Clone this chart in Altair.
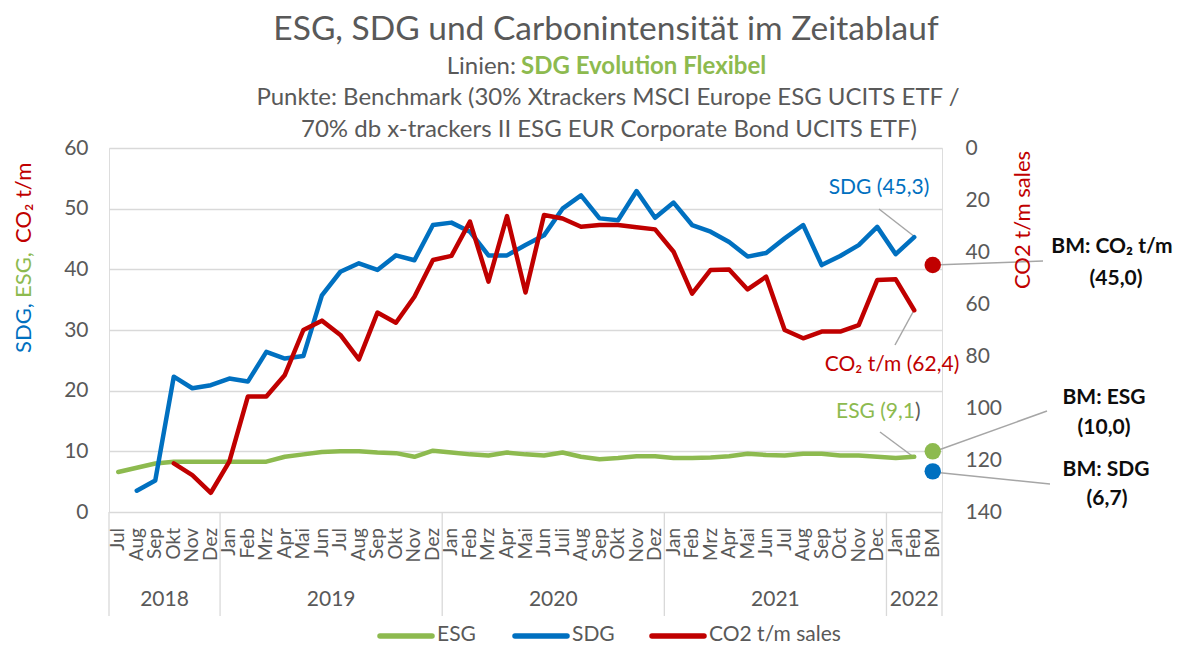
import altair as alt
import pandas as pd

FONT = "Lato"
GRAY = "#595959"
GREEN = "#8DBA4F"
BLUE = "#0070C0"
RED = "#C00000"
GRID = "#D9D9D9"
LEAD = "#A6A6A6"

months = ["Jul", "Aug", "Sep", "Okt", "Nov", "Dez",
          "Jan", "Feb", "Mrz", "Apr", "Mai", "Jun", "Jul", "Aug", "Sep", "Okt", "Nov", "Dez",
          "Jan", "Feb", "Mrz", "Apr", "Mai", "Jun", "Juli", "Aug", "Sep", "Okt", "Nov", "Dez",
          "Jan", "Feb", "Mrz", "Apr", "Mai", "Jun", "Jul", "Aug", "Sep", "Oct", "Nov", "Dec",
          "Jan", "Feb", "BM"]
years = ["2018"] * 6 + ["2019"] * 12 + ["2020"] * 12 + ["2021"] * 12 + ["2022"] * 3

esg = [6.6, 7.3, 8.0, 8.3, 8.3, 8.3,
       8.3, 8.3, 8.3, 9.1, 9.5, 9.9, 10.0, 10.0, 9.8, 9.7, 9.1, 10.1,
       9.8, 9.5, 9.3, 9.8, 9.5, 9.3, 9.8, 9.1, 8.7, 8.9, 9.2, 9.2,
       8.9, 8.9, 9.0, 9.2, 9.6, 9.4, 9.3, 9.6, 9.6, 9.3, 9.3, 9.1,
       8.9, 9.1, None]
sdg = [None, 3.5, 5.2, 22.3, 20.4, 20.9,
       22.0, 21.5, 26.4, 25.3, 25.7, 35.7, 39.6, 41.0, 39.9, 42.3, 41.5, 47.3,
       47.7, 46.2, 42.3, 42.3, 44.0, 45.6, 50.0, 52.2, 48.4, 48.1, 52.9, 48.5,
       51.0, 47.3, 46.2, 44.5, 42.1, 42.7, 45.1, 47.3, 40.7, 42.2, 44.0, 47.0,
       42.5, 45.3, None]
co2 = [None, None, None, 121.3, 125.8, 132.6,
       120.6, 95.6, 95.6, 87.3, 70.0, 66.4, 71.9, 81.3, 63.3, 67.2, 57.2, 43.1,
       41.5, 28.3, 51.4, 26.2, 55.6, 25.8, 27.1, 30.3, 29.6, 29.6, 30.5, 31.3,
       39.9, 56.0, 46.9, 46.7, 54.4, 49.5, 70.0, 73.2, 70.6, 70.6, 68.1, 50.8,
       50.5, 62.4, None]

bm_esg = 10.0
bm_sdg = 6.7
bm_co2 = 45.0

series_names = ["ESG", "SDG", "CO2 t/m sales"]
series_colors = [GREEN, BLUE, RED]


def de(v):
    return f"{v:.1f}".replace(".", ",")


n = len(months)
bm_idx = n - 1
idx = list(range(n))

rows = []
for i in idx:
    if esg[i] is not None:
        rows.append({"idx": i, "series": "ESG", "value": esg[i]})
for i in idx:
    if sdg[i] is not None:
        rows.append({"idx": i, "series": "SDG", "value": sdg[i]})
left_df = pd.DataFrame(rows)
co2_df = pd.DataFrame([{"idx": i, "series": "CO2 t/m sales", "co2": co2[i]} for i in idx if co2[i] is not None])
month_df = pd.DataFrame({"idx": idx, "month": months})

year_order = []
for y in years:
    if y not in year_order:
        year_order.append(y)
year_rows = []
bounds = [-0.5]
for y in year_order:
    ii = [i for i in idx if years[i] == y]
    year_rows.append({"c": (min(ii) + max(ii)) / 2, "year": y})
    bounds.append(max(ii) + 0.5)
year_df = pd.DataFrame(year_rows)
bound_df = pd.DataFrame({"b": bounds})

dummy = pd.DataFrame({"k": [0]})

xscale = alt.Scale(domain=[-0.5, n - 0.5], nice=False, zero=False)
X = alt.X("idx:Q", scale=xscale, axis=None)
color_scale = alt.Scale(domain=series_names, range=series_colors)

left_lines = alt.Chart(left_df).mark_line(strokeWidth=4.5, strokeJoin="round", strokeCap="round").encode(
    x=X,
    y=alt.Y("value:Q", scale=alt.Scale(domain=[0, 60], nice=False),
            axis=alt.Axis(values=[0, 10, 20, 30, 40, 50, 60], title=None, grid=True, gridColor=GRID,
                          gridWidth=1.3, domain=False, ticks=False, tickSize=0, labelPadding=21,
                          labelFontSize=21, labelColor=GRAY, labelFont=FONT)),
    color=alt.Color("series:N", scale=color_scale, legend=None),
)


def bm_point(val, col, field="value"):
    d = pd.DataFrame({"idx": [bm_idx], field: [val]})
    return alt.Chart(d).mark_circle(size=270, opacity=1, color=col).encode(x=X, y=f"{field}:Q")


left_group = alt.layer(left_lines, bm_point(bm_esg, GREEN), bm_point(bm_sdg, BLUE))

co2_line = alt.Chart(co2_df).mark_line(strokeWidth=4.5, strokeJoin="round", strokeCap="round").encode(
    x=X,
    y=alt.Y("co2:Q", scale=alt.Scale(domain=[0, 140], reverse=True, nice=False),
            axis=alt.Axis(orient="right", values=[0, 20, 40, 60, 80, 100, 120, 140], title=None, grid=False,
                          domain=False, ticks=False, tickSize=0, labelPadding=23,
                          labelFontSize=21, labelColor=GRAY, labelFont=FONT)),
    color=alt.Color("series:N", scale=color_scale, legend=None),
)
right_group = alt.layer(co2_line, bm_point(bm_co2, RED, "co2"))


def label(text, x, y, color, size=21, align="center", weight="normal", angle=0):
    kw = dict(text=text, align=align, baseline="middle", fontSize=size, color=color,
              fontWeight=weight, font=FONT)
    if angle:
        kw["angle"] = angle
    return alt.Chart(dummy).mark_text(**kw).encode(x=alt.value(x), y=alt.value(y))


def lead(x1, y1, x2, y2, color=LEAD, width=1.5, cap="butt"):
    return alt.Chart(dummy).mark_rule(color=color, strokeWidth=width, strokeCap=cap).encode(
        x=alt.value(x1), y=alt.value(y1), x2=alt.value(x2), y2=alt.value(y2))


month_text = alt.Chart(month_df).mark_text(
    angle=270, align="right", baseline="middle", fontSize=19, color=GRAY, font=FONT
).encode(x=X, y=alt.value(380), text="month:N")

year_text = alt.Chart(year_df).mark_text(
    baseline="middle", fontSize=21, color=GRAY, font=FONT
).encode(x=alt.X("c:Q", scale=xscale, axis=None), y=alt.value(452), text="year:N")

separators = alt.Chart(bound_df).mark_rule(color=GRID, strokeWidth=1.3).encode(
    x=alt.X("b:Q", scale=xscale, axis=None), y=alt.value(364), y2=alt.value(468))

leaders = [
    lead(770, 61, 806, 89),
    lead(786, 197, 804, 164),
    lead(771, 284, 806, 310),
    lead(824, 117, 934, 113),
    lead(824, 304, 938, 263),
    lead(824, 324, 941, 336),
]

# legend (bottom)
legend_layers = []
legend_x = [271, 406, 543]
for name, col, lx in zip(series_names, series_colors, legend_x):
    legend_layers.append(lead(lx, 488, lx + 52, 488, color=col, width=5.5, cap="round"))
    legend_layers.append(label(name, lx + 57, 487, GRAY, size=21, align="left"))

texts = [
    label("ESG, SDG und Carbonintensität im Zeitablauf", 497, -118, GRAY, size=33.5),
    label("Linien:", 407, -81, GRAY, size=24, align="right"),
    label("SDG Evolution Flexibel", 412, -81, GREEN, size=24, align="left", weight="bold"),
    label("Punkte: Benchmark (30% Xtrackers MSCI Europe ESG UCITS ETF /", 499, -50, GRAY, size=24),
    label("70% db x-trackers II ESG EUR Corporate Bond UCITS ETF)", 500, -18, GRAY, size=24),
    label("SDG, ", -85, 205, BLUE, size=22, align="left", angle=270),
    label("ESG, ", -85, 150, GREEN, size=22, align="left", angle=270),
    label("CO₂ t/m", -85, 95, RED, size=22, align="left", angle=270),
    label("CO2 t/m sales", 914, 72, RED, size=22, angle=270),
    label(f"SDG ({de(sdg[-2])})", 770, 40, BLUE),
    label(f"CO₂ t/m ({de(co2[-2])})", 783, 217, RED),
    label(f"ESG ({de(esg[-2])}", 806, 264, GREEN, align="right"),
    label(")", 806, 264, GRAY, align="left"),
    label("BM: CO₂ t/m", 1003, 99, "#0D0D0D", weight="bold"),
    label(f"({de(bm_co2)})", 1007, 131, "#0D0D0D", weight="bold"),
    label("BM: ESG", 995, 250, "#0D0D0D", weight="bold"),
    label(f"({de(bm_esg)})", 995, 280, "#0D0D0D", weight="bold"),
    label("BM: SDG", 997, 322, "#0D0D0D", weight="bold"),
    label(f"({de(bm_sdg)})", 998, 351, "#0D0D0D", weight="bold"),
]

chart = alt.layer(
    separators, month_text, year_text, *leaders, left_group, right_group, *legend_layers, *texts
).resolve_scale(y="independent").properties(
    width=833, height=364,
    padding={"left": 101, "top": 140, "right": 234, "bottom": 135},
    autosize=alt.AutoSizeParams(type="none"),
).configure_view(stroke=None).configure(font=FONT)

chart.save("out.html", embed_options={"renderer": "svg", "actions": False})
